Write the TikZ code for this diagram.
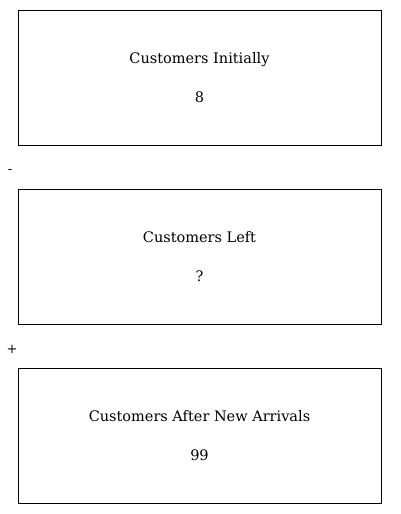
\documentclass[tikz,border=0pt]{standalone}
\usepackage{fontspec}
\setmainfont{DejaVu Serif}
\usepackage{tikz}
\usetikzlibrary{
positioning,
}
\tikzset{
node distance=43pt,
x=1pt, y=-1pt,
every node/.style={align=center},
quantity/.style={rectangle, draw, line width=1pt, minimum width=363pt, minimum height=135pt,
    font=\fontsize{14.5}{39}\selectfont},
operator/.style={font=\fontsize{13}{14}\selectfont, inner sep=0pt},
}

\begin{document}
\begin{tikzpicture}
\useasboundingbox (0,0) rectangle (400,514);
\node (initial) [quantity] at (199.5,77.5) {Customers Initially\\8};
\node (left) [quantity, below=of initial] {Customers Left\\?};
\node (arrivals) [quantity, below=of left] {Customers After New Arrivals\\99};
% operators between the boxes
\node (minus) [operator] at (10,172) {-};
\node (plus) [operator] at (12,349) {+};
\end{tikzpicture}
\end{document}
